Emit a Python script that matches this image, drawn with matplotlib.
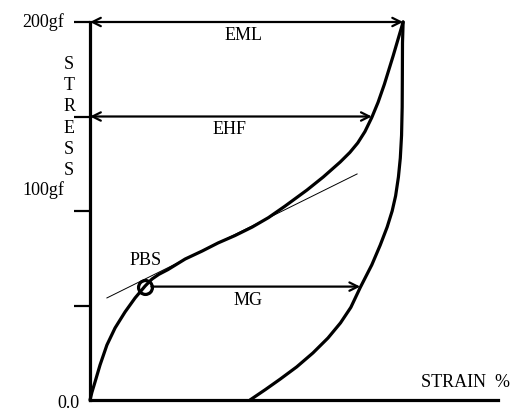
import matplotlib
matplotlib.use("Agg")
import matplotlib.pyplot as plt

plt.rcParams['font.family'] = ['Liberation Serif', 'DejaVu Serif']

# ---- data (strain in arbitrary %, peak = 100; stress in gf) ----
load_strain = [0, 0.6, 1.6, 3.2, 5.4, 8.0, 11.2, 14.4, 17.6, 19.8, 22.0, 24.9,
               30.4, 35.8, 40.9, 46.3, 51.8, 57.0, 62.3, 69.3, 74.5, 79.9,
               83.0, 85.5, 87.8, 90.0, 92.0, 94.0, 96.8, 100]
load_stress = [0, 4.0, 9.5, 18.5, 29.1, 38.1, 46.6, 54.0, 60.3, 64.0, 66.5, 69.0,
               74.6, 78.8, 83.1, 87.0, 91.5, 96.5, 102.6, 111.1, 118.0, 125.9,
               131.0, 136.0, 142.0, 149.5, 157.5, 167.0, 182.0, 200]

unload_strain = [100, 99.8, 99.75, 99.7, 99.5, 99.1, 98.5, 97.6, 96.5, 94.9, 92.7,
                 90.0, 86.3, 83.3, 80.0, 76.0, 71.2, 66.0, 60.7, 56.0, 51.1]
unload_stress = [200, 189.0, 170.0, 155.0, 140.0, 128.0, 118.0, 108.0, 100.0, 91.5,
                 82.0, 71.5, 59.5, 49.0, 40.8, 32.8, 24.9, 17.5, 11.0, 5.5, 0]

tangent_strain = [5.4, 85.3]
tangent_stress = [54.0, 119.6]

pbs_point = (17.6, 60.0)
eml = (100, 200)      # strain end, stress level
ehf = (90.0, 150)
mg_end = 86.3

ytick_values = [50, 100, 150, 200]
axis_labels = ["200gf", "100gf", "0.0"]
axis_label_levels = [200, 111, -1.6]

fig = plt.figure(figsize=(5.21, 4.12), dpi=100)
ax = fig.add_axes([90/521, 12/412, 408/521, 378/412])
ax.set_xlim(0, 130.3)
ax.set_ylim(0, 200)

for s in ['top', 'right']:
    ax.spines[s].set_visible(False)
ax.spines['left'].set_linewidth(2.3)
ax.spines['bottom'].set_linewidth(2.3)
ax.set_xticks([])
ax.set_yticks(ytick_values)
ax.set_yticklabels([])
ax.tick_params(axis='y', direction='out', length=11.5, width=1.6)

# curves
ax.plot(load_strain, load_stress, color='black', lw=2.3, clip_on=False,
        solid_capstyle='round', solid_joinstyle='round')
ax.plot(unload_strain, unload_stress, color='black', lw=2.3, clip_on=False,
        solid_capstyle='round', solid_joinstyle='round')
ax.plot(tangent_strain, tangent_stress, color='black', lw=0.7)

# PBS circle
ax.plot([pbs_point[0]], [pbs_point[1]], marker='o', markersize=10,
        markerfacecolor='none', markeredgecolor='black', markeredgewidth=2.3,
        clip_on=False)

astyle = '<->,head_length=0.6,head_width=0.3'
ax.annotate('', xy=(eml[0], eml[1]), xytext=(0, eml[1]),
            arrowprops=dict(arrowstyle=astyle, lw=1.6, color='black',
                            shrinkA=0, shrinkB=0), annotation_clip=False)
ax.annotate('', xy=(ehf[0], ehf[1]), xytext=(0, ehf[1]),
            arrowprops=dict(arrowstyle=astyle, lw=1.6, color='black',
                            shrinkA=0, shrinkB=0), annotation_clip=False)
ax.annotate('', xy=(mg_end, pbs_point[1]), xytext=(pbs_point[0] + 2.0, pbs_point[1]),
            arrowprops=dict(arrowstyle='->,head_length=0.6,head_width=0.3',
                            lw=1.6, color='black', shrinkA=0, shrinkB=0),
            annotation_clip=False)

fs = 13
ax.text(48.9, 192.6, 'EML', ha='center', va='center', fontsize=fs)
ax.text(44.7, 142.9, 'EHF', ha='center', va='center', fontsize=fs)
ax.text(50.5, 52.4, 'MG', ha='center', va='center', fontsize=fs)
ax.text(17.6, 74.0, 'PBS', ha='center', va='center', fontsize=fs)
ax.text(134.2, 9, 'STRAIN  %', ha='right', va='center', fontsize=fs, clip_on=False)

for lab, yv in zip(axis_labels, axis_label_levels):
    xr = -3.2 if lab == "0.0" else -8.3
    ax.text(xr, yv, lab, ha='right', va='center', fontsize=fs, clip_on=False)

ax.text(-6.7, 149.5, 'S\nT\nR\nE\nS\nS', ha='center', va='center', fontsize=fs,
        linespacing=1.32, clip_on=False)

fig.savefig('out.png', dpi=100)
